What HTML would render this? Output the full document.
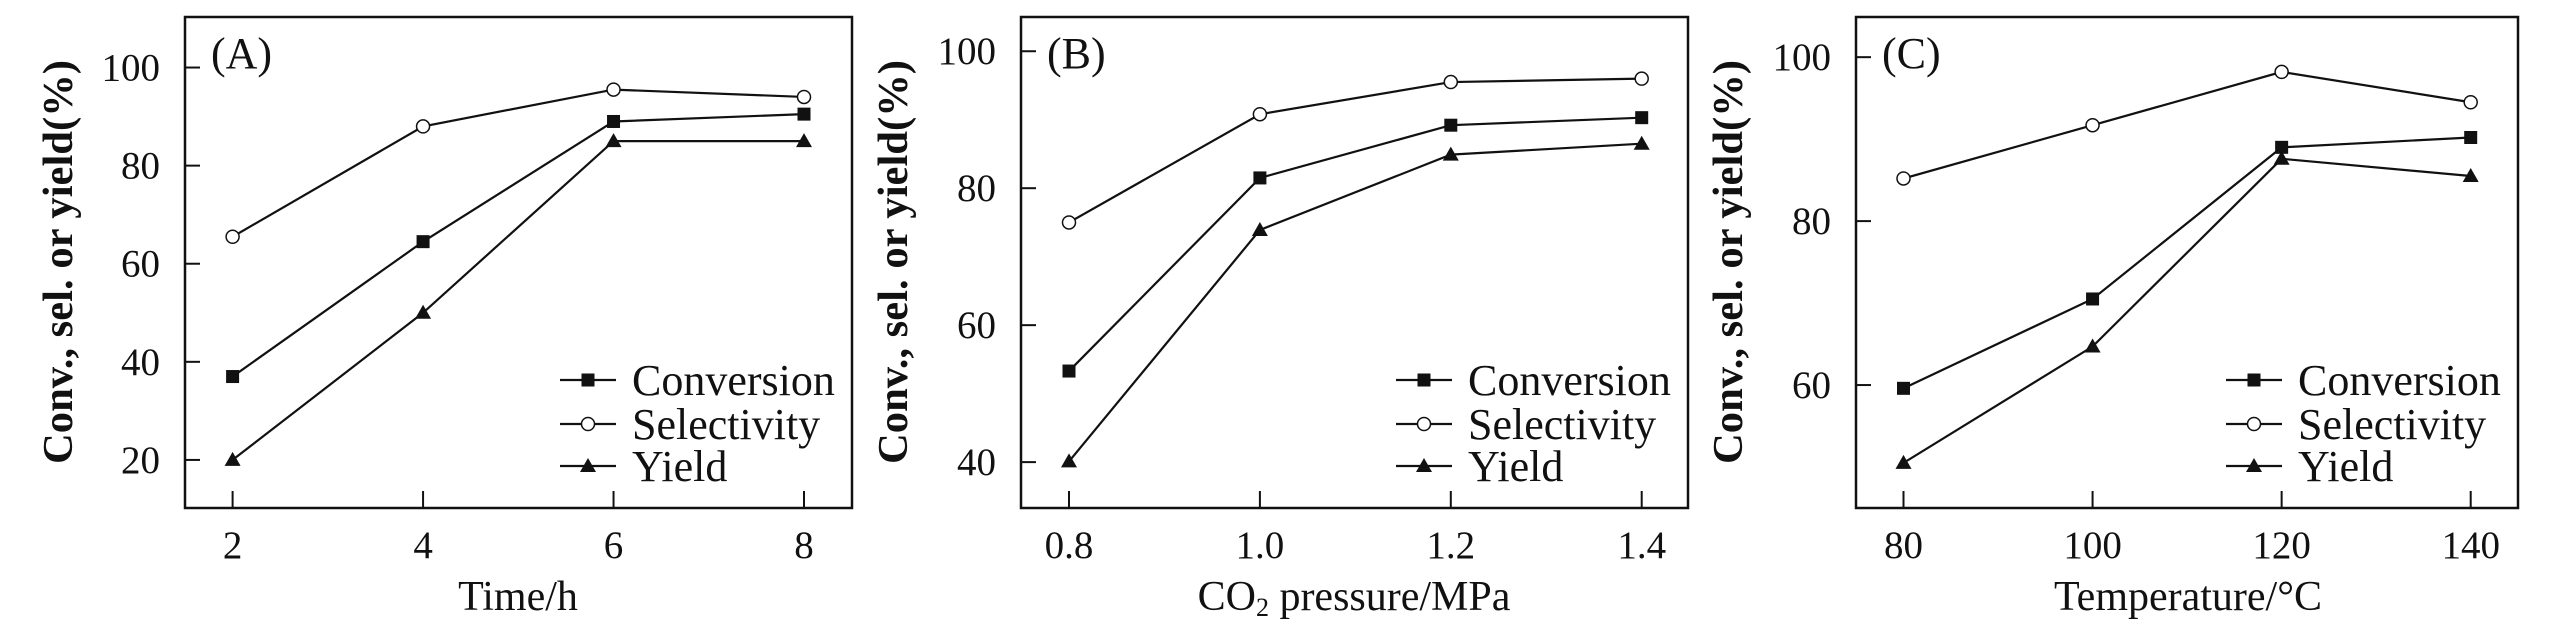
<!DOCTYPE html>
<html><head><meta charset="utf-8"><style>
html,body{margin:0;padding:0;background:#fff}
svg{display:block}
text{font-family:"Liberation Serif",serif;fill:#111}
</style></head><body>
<svg id="fig" width="2567" height="630" viewBox="0 0 2567 630" xmlns="http://www.w3.org/2000/svg"></svg>
<script>
// Panel A data
const catsA = [2, 4, 6, 8];
const convA = [37, 64.5, 89, 90.5];
const selA = [65.5, 88, 95.5, 94];
const yieldA = [20, 50, 85, 85];
const yTicksA = [20, 40, 60, 80, 100];
// Panel B data
const catsB = [0.8, 1.0, 1.2, 1.4];
const catLabelsB = ["0.8", "1.0", "1.2", "1.4"];
const convB = [53.3, 81.5, 89.2, 90.3];
const selB = [75, 90.8, 95.5, 96];
const yieldB = [40.1, 73.9, 84.9, 86.5];
const yTicksB = [40, 60, 80, 100];
// Panel C data
const catsC = [80, 100, 120, 140];
const convC = [59.6, 70.5, 89, 90.2];
const selC = [85.2, 91.7, 98.2, 94.5];
const yieldC = [50.5, 64.7, 87.6, 85.5];
const yTicksC = [60, 80, 100];

const NS = "http://www.w3.org/2000/svg";
const svg = document.getElementById("fig");
function mk(tag, attrs, parent, txt) {
  const e = document.createElementNS(NS, tag);
  for (const k in attrs) e.setAttribute(k, attrs[k]);
  if (txt !== undefined) e.textContent = txt;
  (parent || svg).appendChild(e);
  return e;
}

const panels = [
  {id:"a", letter:"(A)", x0:185, x1:852, cats:catsA, labels:catsA.map(String), xmin:2, xmax:8, px0:232.6, px1:804,
   ymin:10.2, ymax:110.3, conv:convA, sel:selA, yld:yieldA, ticks:yTicksA, xtitle:"Time/h", titleX:518, ytitleX:58},
  {id:"b", letter:"(B)", x0:1021, x1:1688, cats:catsB, labels:catLabelsB, xmin:0.8, xmax:1.4, px0:1069, px1:1641.7,
   ymin:33.3, ymax:105, conv:convB, sel:selB, yld:yieldB, ticks:yTicksB, xtitle:"CO2", titleX:1354, ytitleX:893},
  {id:"c", letter:"(C)", x0:1856, x1:2518, cats:catsC, labels:catsC.map(String), xmin:80, xmax:140, px0:1903.5, px1:2470.7,
   ymin:45, ymax:104.9, conv:convC, sel:selC, yld:yieldC, ticks:yTicksC, xtitle:"Temperature/°C", titleX:2188, ytitleX:1728}
];
const Y0 = 17, Y1 = 508;

panels.forEach(p => {
  const g = mk("g", {});
  
  
  const xs = v => p.px0 + (v - p.xmin) / (p.xmax - p.xmin) * (p.px1 - p.px0);
  const ys = v => Y1 - (v - p.ymin) / (p.ymax - p.ymin) * (Y1 - Y0);

  const fr = mk("rect", {x:p.x0, y:Y0, width:p.x1-p.x0, height:Y1-Y0, fill:"none", stroke:"#111", "stroke-width":2.5}, g);
  
  

  p.ticks.forEach(t => {
    const y = ys(t);
    const tk = mk("line", {x1:p.x0, x2:p.x0+15, y1:y, y2:y, stroke:"#111", "stroke-width":2}, g);
    
    
    const tl = mk("text", {x:p.x0-25, y:y+13, "text-anchor":"end", "font-size":39}, g, String(t));
    
    
  });
  p.cats.forEach((c, i) => {
    const x = xs(c);
    const tk = mk("line", {x1:x, x2:x, y1:Y1, y2:Y1-17, stroke:"#111", "stroke-width":2}, g);
    
    
    const tl = mk("text", {x:x, y:558, "text-anchor":"middle", "font-size":39}, g, p.labels[i]);
    
    
  });

  let xt;
  if (p.xtitle === "CO2") {
    xt = mk("text", {x:p.titleX, y:610, "text-anchor":"middle", "font-size":42}, g);
    mk("tspan", {}, xt, "CO");
    mk("tspan", {"font-size":26, dy:6}, xt, "2");
    mk("tspan", {dy:-6}, xt, " pressure/MPa");
  } else {
    xt = mk("text", {x:p.titleX, y:610, "text-anchor":"middle", "font-size":42}, g, p.xtitle);
  }
  
  

  const yt = mk("text", {x:0, y:0, "text-anchor":"middle", "font-size":42, "font-weight":"bold",
    transform:"translate(" + (p.ytitleX+14) + ",262) rotate(-90)", textLength:404, lengthAdjust:"spacingAndGlyphs"}, g, "Conv., sel. or yield(%)");
  
  

  const lt = mk("text", {x:p.x0+26, y:68, "font-size":44}, g, p.letter);
  
  

  function marker(kind, x, y, parent) {
    let m;
    if (kind === "sq") m = mk("rect", {x:x-6.5, y:y-6.5, width:13, height:13, fill:"#111"}, parent);
    else if (kind === "ci") m = mk("circle", {cx:x, cy:y, r:6.5, fill:"#fff", stroke:"#111", "stroke-width":1.5}, parent);
    else m = mk("polygon", {points:(x)+","+(y-8)+" "+(x-8)+","+(y+6)+" "+(x+8)+","+(y+6), fill:"#111"}, parent);
    return m;
  }
  const series = [["conversion", p.conv, "sq"], ["selectivity", p.sel, "ci"], ["yield", p.yld, "tr"]];
  series.forEach(([name, vals, kind]) => {
    const sg = mk("g", {}, g);
    
    
    const pts = vals.map((v, i) => xs(p.cats[i]) + "," + ys(v)).join(" ");
    const ln = mk("polyline", {points:pts, fill:"none", stroke:"#111", "stroke-width":2.2}, sg);
    
    
    vals.forEach((v, i) => {
      const m = marker(kind, xs(p.cats[i]), ys(v), sg);
      
      
    });
  });

  const lg = mk("g", {}, g);
  
  
  const lx = p.x1 - 292;
  const rows = [["Conversion", "sq", 380], ["Selectivity", "ci", 424], ["Yield", "tr", 466]];
  rows.forEach(([label, kind, y]) => {
    const eg = mk("g", {}, lg);
    
    
    mk("line", {x1:lx, x2:lx+56, y1:y, y2:y, stroke:"#111", "stroke-width":2.2}, eg);
    marker(kind, lx+28, y, eg);
    mk("text", {x:lx+72, y:y+15, "font-size":44}, eg, label);
  });
});
</script>
</body></html>
